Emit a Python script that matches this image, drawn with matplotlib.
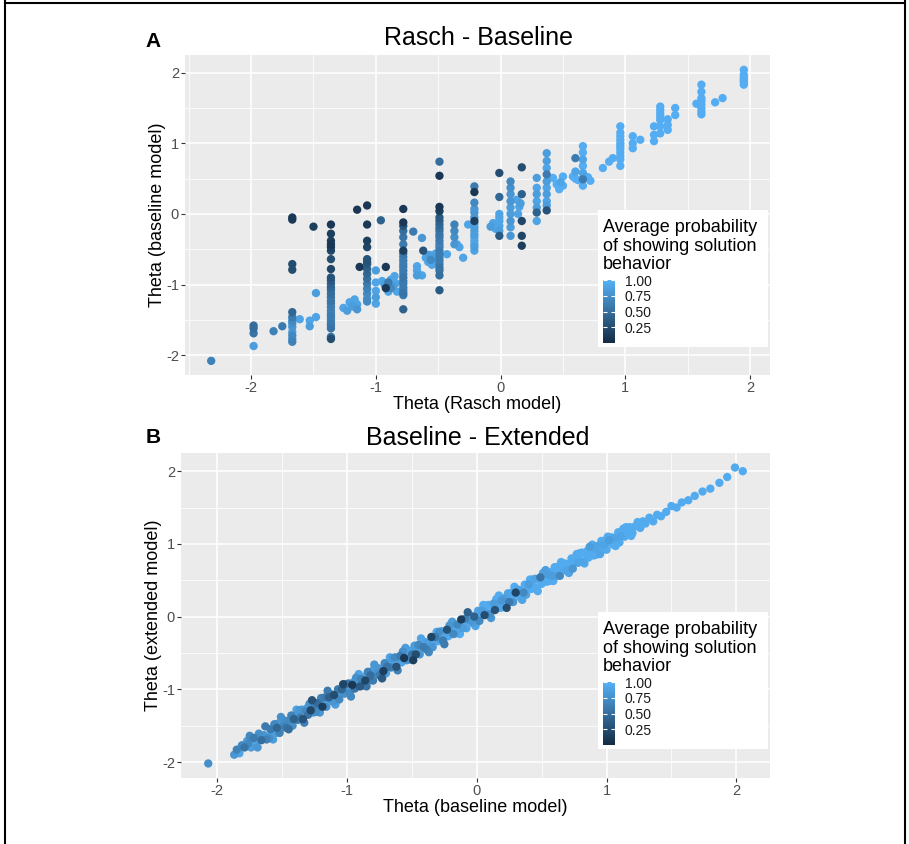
import matplotlib
matplotlib.use("Agg")
import numpy as np
import matplotlib.pyplot as plt
from matplotlib.colors import LinearSegmentedColormap, Normalize
from matplotlib.cm import ScalarMappable
from matplotlib.patches import Rectangle
from matplotlib.lines import Line2D
from matplotlib.ticker import MultipleLocator

plt.rcParams['font.family'] = ['Liberation Sans', 'DejaVu Sans']
plt.rcParams['axes.unicode_minus'] = False

# ---- panel A: Rasch theta (discrete) vs baseline theta ----
a_rasch = ([-2.32] + [-1.98] * 4 + [-1.82, -1.75] + [-1.67] * 13
           + [-1.61, -1.53, -1.53, -1.48, -1.48, -1.50] + [-1.36] * 28
           + [-1.26, -1.23, -1.21, -1.17, -1.19, -1.15, -1.15, -1.15, -1.13]
           + [-1.07] * 15 + [-1.00] * 5 + [-0.96, -0.92, -0.92]
           + [-0.95, -0.93, -0.90, -0.88, -0.86, -0.84, -0.83, -0.85, -0.90, -0.88]
           + [-0.78] * 22 + [-0.70, -0.67, -0.67, -0.67, -0.63, -0.63, -0.62]
           + [-0.60, -0.58, -0.57, -0.55, -0.54, -0.52, -0.56, -0.53]
           + [-0.49] * 23 + [-0.43, -0.37, -0.37, -0.37, -0.37, -0.30, -0.35, -0.33, -0.26]
           + [-0.21] * 16 + [-0.01] * 8 + [-0.06, -0.04, -0.08]
           + [0.08] * 9 + [0.17] * 5 + [0.13, 0.15, 0.14, 0.16]
           + [0.29] * 7 + [0.37] * 10 + [0.42, 0.45, 0.47, 0.50, 0.50, 0.48]
           + [0.60] * 3 + [0.66] * 7 + [0.58, 0.62, 0.70, 0.72, 0.82, 0.87, 0.90]
           + [0.96] * 11 + [1.06, 1.06, 1.06, 1.12, 1.23, 1.23, 1.23]
           + [1.28] * 7 + [1.34] * 3 + [1.40] * 2 + [1.61] * 8 + [1.57, 1.72, 1.78]
           + [1.95] * 6)
a_base = [-2.08,
          -1.58, -1.62, -1.69, -1.87,
          -1.66, -1.59,
          -0.05, -0.08, -0.71, -0.79, -1.39, -1.46, -1.51, -1.55, -1.60, -1.67, -1.72, -1.77, -1.81,
          -1.49, -1.51, -1.59, -1.12, -1.46, -0.18,
          -0.15, -0.28, -0.38, -0.43, -0.47, -0.52, -0.64, -0.78, -0.90, -0.94, -0.99, -1.04, -1.08, -1.13,
          -1.18, -1.23, -1.27, -1.32, -1.37, -1.41, -1.44, -1.48, -1.51, -1.55, -1.58, -1.62, -1.74, -1.77,
          -1.33, -1.37, -1.25, -1.21, -1.31, -1.28, -1.35, 0.06, -0.75,
          0.12, -0.15, -0.38, -0.47, -0.64, -0.68, -0.71, -0.78, -0.85, -0.92, -0.99, -1.06, -1.13, -1.20, -1.24,
          -0.80, -0.97, -1.09, -1.18, -1.27, -0.09, -0.75, -1.05,
          -0.95, -1.00, -1.10, -0.93, -1.02, -0.98, -1.10, -0.88, -0.97, -1.05,
          0.07, -0.12, -0.17, -0.24, -0.33, -0.43, -0.52, -0.56, -0.61, -0.66, -0.71, -0.75, -0.80, -0.85,
          -0.90, -0.95, -0.99, -1.04, -1.08, -1.12, -1.15, -1.35,
          -0.25, -0.74, -0.80, -0.87, -0.34, -0.87, -0.52,
          -0.62, -0.68, -0.58, -0.72, -0.62, -0.56, -0.65, -0.70,
          0.74, 0.54, 0.10, 0.04, -0.05, -0.10, -0.15, -0.20, -0.24, -0.29, -0.33, -0.38, -0.43, -0.47,
          -0.52, -0.57, -0.62, -0.66, -0.71, -0.76, -0.80, -0.87, -1.08,
          -0.57, -0.15, -0.24, -0.33, -0.43, -0.62, -0.43, -0.47, -0.15,
          0.39, 0.31, 0.16, 0.07, 0.02, -0.05, -0.10, -0.14, -0.19, -0.24, -0.29, -0.33, -0.38, -0.43, -0.47, -0.52,
          0.58, 0.24, 0.00, -0.10, -0.24, -0.31, -0.05, -0.17, -0.13, -0.21, -0.18,
          0.46, 0.37, 0.28, 0.18, 0.09, 0.00, -0.10, -0.19, -0.31,
          0.66, 0.28, -0.10, -0.31, -0.45, 0.20, 0.10, 0.00, 0.15,
          0.51, 0.37, 0.28, 0.18, 0.09, 0.02, -0.10,
          0.86, 0.75, 0.65, 0.56, 0.46, 0.37, 0.28, 0.18, 0.12, 0.05,
          0.51, 0.42, 0.35, 0.53, 0.40, 0.45,
          0.79, 0.60, 0.50, 0.96, 0.87, 0.77, 0.68, 0.58, 0.49, 0.40,
          0.53, 0.48, 0.52, 0.47, 0.65, 0.74, 0.79,
          1.24, 1.15, 1.10, 1.05, 1.00, 0.96, 0.92, 0.87, 0.82, 0.77, 0.68,
          1.10, 1.00, 0.93, 1.05, 1.24, 1.12, 1.03,
          1.52, 1.47, 1.42, 1.38, 1.33, 1.24, 1.14, 1.34, 1.26, 1.19, 1.50, 1.40,
          1.83, 1.73, 1.64, 1.60, 1.55, 1.50, 1.45, 1.41, 1.56, 1.58, 1.64,
          2.04, 1.97, 1.93, 1.90, 1.87, 1.83]
a_prob = [0.65,
          0.5, 0.5, 0.55, 0.85,
          0.65, 0.6,
          0.1, 0.1, 0.25, 0.25, 0.45, 0.6, 0.7, 0.75, 0.8, 0.85, 0.7, 0.75, 0.65,
          0.9, 0.9, 0.85, 0.85, 0.9, 0.15,
          0.1, 0.15, 0.15, 0.1, 0.15, 0.2, 0.25, 0.2, 0.3, 0.35, 0.4, 0.45, 0.5, 0.5,
          0.55, 0.55, 0.6, 0.6, 0.65, 0.7, 0.6, 0.65, 0.65, 0.6, 0.6, 0.55, 0.5, 0.25,
          0.9, 0.85, 0.9, 0.9, 0.85, 0.9, 0.8, 0.1, 0.1,
          0.1, 0.1, 0.15, 0.2, 0.3, 0.3, 0.35, 0.4, 0.45, 0.5, 0.6, 0.65, 0.7, 0.75, 0.7,
          0.85, 0.9, 0.9, 0.85, 0.9, 0.4, 0.1, 0.1,
          0.9, 0.85, 0.9, 0.9, 0.85, 0.9, 0.9, 0.9, 0.6, 0.7,
          0.1, 0.1, 0.3, 0.5, 0.55, 0.6, 0.15, 0.55, 0.6, 0.6, 0.65, 0.6, 0.6, 0.65,
          0.55, 0.6, 0.6, 0.6, 0.65, 0.55, 0.6, 0.4,
          0.6, 0.9, 0.9, 0.85, 0.8, 0.9, 0.3,
          0.9, 0.9, 0.85, 0.9, 0.85, 0.9, 0.7, 0.9,
          0.5, 0.1, 0.1, 0.15, 0.35, 0.4, 0.45, 0.5, 0.55, 0.55, 0.6, 0.6, 0.65, 0.65,
          0.6, 0.6, 0.65, 0.6, 0.6, 0.55, 0.55, 0.5, 0.35,
          0.9, 0.65, 0.7, 0.75, 0.8, 0.9, 0.9, 0.9, 0.9,
          0.6, 0.1, 0.7, 0.8, 0.8, 0.8, 0.15, 0.85, 0.85, 0.85, 0.85, 0.9, 0.9, 0.9, 0.85, 0.9,
          0.25, 0.45, 0.9, 0.9, 0.85, 0.35, 0.9, 0.9, 0.9, 0.9, 0.85,
          0.7, 0.75, 0.8, 0.8, 0.85, 0.85, 0.8, 0.85, 0.8,
          0.25, 0.4, 0.2, 0.2, 0.15, 0.9, 0.9, 0.9, 0.85,
          0.85, 0.9, 0.85, 0.9, 0.85, 0.4, 0.9,
          0.85, 0.85, 0.9, 0.6, 0.85, 0.9, 0.85, 0.9, 0.85, 0.3,
          0.97, 0.97, 0.97, 0.97, 0.97, 0.9,
          0.6, 0.9, 0.97, 0.97, 0.97, 0.9, 0.97, 0.9, 0.6, 0.97,
          0.97, 0.97, 0.97, 0.97, 0.97, 0.97, 0.97,
          0.97, 0.97, 0.97, 0.97, 0.97, 0.97, 0.97, 0.97, 0.97, 0.97, 0.97,
          0.97, 0.97, 0.97, 0.97, 0.97, 0.97, 0.97,
          0.97, 0.97, 0.97, 0.97, 0.97, 0.97, 0.97, 0.97, 0.97, 0.97, 0.97, 0.97,
          0.97, 0.97, 0.97, 0.97, 0.97, 0.97, 0.97, 0.97, 0.97, 0.97, 0.97,
          0.97, 0.97, 0.97, 0.97, 0.97, 0.97]

# ---- panel B: baseline theta vs extended theta ----
b_base = [-2.07,
          -1.87, -1.85, -1.83, -1.81, -1.79, -1.77,
          -1.76, -1.74, -1.72, -1.70, -1.68, -1.66, -1.64, -1.62,
          -1.60, -1.59, -1.58, -1.56, -1.55, -1.54, -1.53, -1.52, -1.50, -1.49,
          -1.48, -1.47, -1.46, -1.44, -1.43, -1.42, -1.41, -1.40, -1.38, -1.37,
          -1.36, -1.35, -1.34, -1.32, -1.31, -1.30, -1.29, -1.28, -1.26, -1.25,
          -1.24, -1.23, -1.22, -1.20, -1.19, -1.18, -1.17, -1.16, -1.14, -1.13,
          -1.12, -1.11, -1.10, -1.08, -1.07, -1.06, -1.05, -1.04, -1.02, -1.01,
          -1.00, -0.99, -0.98, -0.96, -0.95, -0.94, -0.93, -0.92, -0.90, -0.89,
          -0.88, -0.87, -0.86, -0.84, -0.83, -0.82, -0.81, -0.80, -0.78, -0.77,
          -0.76, -0.75, -0.74, -0.72, -0.71, -0.70, -0.69, -0.68, -0.66, -0.65,
          -0.64, -0.63, -0.62, -0.60, -0.59, -0.58, -0.57, -0.56, -0.54, -0.53,
          -0.52, -0.51, -0.50, -0.48, -0.47, -0.46, -0.45, -0.44, -0.42, -0.41,
          -0.40, -0.39, -0.38, -0.36, -0.35, -0.34, -0.33, -0.32, -0.30, -0.29,
          -0.28, -0.27, -0.26, -0.24, -0.23, -0.22, -0.21, -0.20, -0.18, -0.17,
          -0.16, -0.15, -0.14, -0.12, -0.11, -0.10, -0.09, -0.08, -0.06, -0.05,
          -0.04, -0.03, -0.02, 0.00, 0.01, 0.02, 0.03, 0.04, 0.06, 0.07,
          0.08, 0.09, 0.10, 0.12, 0.13, 0.14, 0.15, 0.16, 0.18, 0.19,
          0.20, 0.21, 0.22, 0.24, 0.25, 0.26, 0.27, 0.28, 0.30, 0.31,
          0.32, 0.33, 0.34, 0.36, 0.37, 0.38, 0.39, 0.40, 0.42, 0.43,
          0.44, 0.45, 0.46, 0.48, 0.49, 0.50, 0.51, 0.52, 0.54, 0.55,
          0.56, 0.57, 0.58, 0.60, 0.61, 0.62, 0.63, 0.64, 0.66, 0.67,
          0.68, 0.69, 0.70, 0.72, 0.73, 0.74, 0.75, 0.76, 0.78, 0.79,
          0.80, 0.81, 0.82, 0.84, 0.85, 0.86, 0.87, 0.88, 0.90, 0.91,
          0.92, 0.93, 0.94, 0.96, 0.97, 0.98, 0.99, 1.00, 1.02, 1.03,
          1.04, 1.05, 1.06, 1.08, 1.09, 1.10, 1.11, 1.12, 1.14, 1.15,
          1.16, 1.18, 1.20, 1.22, 1.24, 1.26, 1.28, 1.30,
          1.33, 1.36, 1.39, 1.42, 1.46, 1.50, 1.54, 1.58, 1.63, 1.68, 1.74, 1.80, 1.87, 1.93, 1.99, 2.05,
          # outer edge of the band
          -1.75, -1.69, -1.63, -1.57, -1.51, -1.45, -1.39, -1.33, -1.27, -1.21,
          -1.15, -1.09, -1.03, -0.97, -0.91, -0.85, -0.79, -0.73, -0.67, -0.61,
          -0.55, -0.49, -0.43, -0.37, -0.31, -0.25, -0.19, -0.13, -0.07, -0.01,
          0.05, 0.11, 0.17, 0.23, 0.29, 0.35, 0.41, 0.47, 0.53, 0.59,
          0.65, 0.71, 0.77, 0.83, 0.89, 0.95, 1.01, 1.07, 1.13, 1.19]
b_ext = [-2.02,
         -1.90, -1.83, -1.88, -1.77, -1.80, -1.71,
         -1.74, -1.80, -1.67, -1.72, -1.61, -1.70, -1.63, -1.69,
         -1.67, -1.55, -1.60, -1.48, -1.60, -1.53, -1.47, -1.60, -1.47, -1.50,
         -1.43, -1.53, -1.44, -1.47, -1.36, -1.50, -1.41, -1.36, -1.42, -1.29,
         -1.39, -1.28, -1.41, -1.30, -1.26, -1.35, -1.20, -1.29, -1.32, -1.22,
         -1.31, -1.19, -1.24, -1.12, -1.24, -1.17, -1.11, -1.24, -1.11, -1.14,
         -1.07, -1.17, -1.08, -1.11, -1.00, -1.14, -1.05, -1.00, -1.06, -0.93,
         -1.03, -0.92, -1.05, -0.94, -0.90, -0.99, -0.84, -0.93, -0.96, -0.86,
         -0.95, -0.83, -0.88, -0.76, -0.88, -0.81, -0.75, -0.88, -0.75, -0.78,
         -0.71, -0.81, -0.72, -0.75, -0.64, -0.78, -0.69, -0.64, -0.70, -0.57,
         -0.67, -0.56, -0.69, -0.58, -0.54, -0.63, -0.48, -0.57, -0.60, -0.50,
         -0.59, -0.47, -0.52, -0.40, -0.52, -0.45, -0.39, -0.52, -0.39, -0.42,
         -0.35, -0.45, -0.36, -0.39, -0.28, -0.42, -0.33, -0.28, -0.34, -0.21,
         -0.31, -0.20, -0.33, -0.22, -0.18, -0.27, -0.12, -0.21, -0.24, -0.14,
         -0.23, -0.11, -0.16, -0.04, -0.16, -0.09, -0.03, -0.16, -0.03, -0.06,
         0.01, -0.09, 0.00, -0.03, 0.08, -0.06, 0.03, 0.08, 0.02, 0.15,
         0.05, 0.16, 0.03, 0.14, 0.18, 0.09, 0.24, 0.15, 0.12, 0.22,
         0.13, 0.25, 0.20, 0.32, 0.20, 0.27, 0.33, 0.20, 0.33, 0.30,
         0.37, 0.27, 0.36, 0.33, 0.44, 0.30, 0.39, 0.44, 0.38, 0.51,
         0.41, 0.52, 0.39, 0.50, 0.54, 0.45, 0.60, 0.51, 0.48, 0.58,
         0.49, 0.61, 0.56, 0.68, 0.56, 0.63, 0.69, 0.56, 0.69, 0.66,
         0.73, 0.63, 0.72, 0.69, 0.80, 0.66, 0.75, 0.80, 0.74, 0.87,
         0.77, 0.88, 0.75, 0.86, 0.90, 0.81, 0.96, 0.87, 0.84, 0.94,
         0.85, 0.97, 0.92, 1.04, 0.92, 0.99, 1.05, 0.92, 1.05, 1.02,
         1.09, 0.99, 1.08, 1.05, 1.16, 1.02, 1.11, 1.16, 1.10, 1.23,
         1.13, 1.23, 1.15, 1.24, 1.30, 1.22, 1.31, 1.28,
         1.36, 1.31, 1.40, 1.38, 1.44, 1.52, 1.50, 1.57, 1.60, 1.66, 1.72, 1.76, 1.84, 1.92, 2.05, 2.00,
         # outer edge of the band
         -1.64, -1.80, -1.51, -1.69, -1.38, -1.55, -1.28, -1.46, -1.15, -1.32,
         -1.02, -1.21, -0.93, -1.10, -0.79, -0.96, -0.66, -0.85, -0.56, -0.74,
         -0.43, -0.60, -0.30, -0.49, -0.21, -0.38, -0.07, -0.24, 0.06, -0.13,
         0.16, -0.02, 0.29, 0.12, 0.41, 0.23, 0.51, 0.35, 0.64, 0.49,
         0.75, 0.60, 0.86, 0.73, 0.99, 0.86, 1.10, 0.97, 1.21, 1.11]
b_prob = [0.75,
          0.8, 0.65, 0.9, 0.7, 0.55, 0.85,
          0.7, 0.85, 0.6, 0.9, 0.75, 0.5, 0.8, 0.65,
          0.75, 0.6, 0.9, 0.7, 0.85, 0.45, 0.8, 0.65, 0.9, 0.7,
          0.8, 0.55, 0.7, 0.9, 0.65, 0.75, 0.4, 0.85, 0.6, 0.8,
          0.6, 0.85, 0.3, 0.7, 0.9, 0.55, 0.75, 0.2, 0.8, 0.65,
          0.7, 0.5, 0.85, 0.65, 0.15, 0.9, 0.6, 0.75, 0.4, 0.8,
          0.65, 0.8, 0.25, 0.9, 0.6, 0.7, 0.85, 0.45, 0.75, 0.55,
          0.85, 0.6, 0.7, 0.1, 0.9, 0.55, 0.75, 0.8, 0.35, 0.65,
          0.7, 0.9, 0.2, 0.65, 0.8, 0.5, 0.85, 0.6, 0.9, 0.75,
          0.8, 0.6, 0.9, 0.15, 0.7, 0.85, 0.55, 0.9, 0.65, 0.8,
          0.9, 0.7, 0.3, 0.85, 0.6, 0.9, 0.75, 0.1, 0.8, 0.9,
          0.75, 0.9, 0.55, 0.85, 0.25, 0.9, 0.7, 0.8, 0.95, 0.6,
          0.9, 0.65, 0.85, 0.95, 0.2, 0.8, 0.9, 0.6, 0.95, 0.75,
          0.85, 0.95, 0.6, 0.9, 0.3, 0.95, 0.8, 0.9, 0.7, 0.95,
          0.9, 0.7, 0.95, 0.15, 0.85, 0.95, 0.65, 0.9, 0.95, 0.8,
          0.95, 0.85, 0.4, 0.95, 0.9, 0.7, 0.95, 0.85, 0.25, 0.95,
          0.9, 0.95, 0.75, 0.95, 0.85, 0.3, 0.95, 0.9, 0.95, 0.8,
          0.95, 0.85, 0.95, 0.9, 0.6, 0.95, 0.95, 0.8, 0.2, 0.95,
          0.9, 0.95, 0.95, 0.7, 0.95, 0.9, 0.95, 0.85, 0.95, 0.95,
          0.95, 0.9, 0.95, 0.95, 0.55, 0.95, 0.9, 0.95, 0.95, 0.85,
          0.95, 0.95, 0.85, 0.95, 0.9, 0.95, 0.95, 0.7, 0.95, 0.95,
          0.95, 0.9, 0.95, 0.95, 0.95, 0.8, 0.95, 0.95, 0.9, 0.95,
          0.95, 0.95, 0.9, 0.95, 0.95, 0.95, 0.85, 0.95, 0.95, 0.9,
          0.95, 0.9, 0.95, 0.95, 0.95, 0.9, 0.95, 0.95, 0.85, 0.95,
          0.95, 0.95, 0.9, 0.95, 0.95, 0.95, 0.9, 0.95, 0.95, 0.95,
          0.95, 0.95, 0.95, 0.95, 0.95, 0.95, 0.95, 0.95,
          0.95, 0.95, 0.95, 0.95, 0.95, 0.95, 0.95, 0.95, 0.95, 0.95, 0.95, 0.95, 0.95, 0.95, 0.95, 0.95,
          # outer edge of the band
          0.7, 0.8, 0.6, 0.85, 0.75, 0.5, 0.9, 0.65, 0.3, 0.8,
          0.6, 0.85, 0.2, 0.7, 0.9, 0.55, 0.8, 0.35, 0.9, 0.65,
          0.85, 0.15, 0.9, 0.7, 0.95, 0.6, 0.85, 0.95, 0.4, 0.9,
          0.95, 0.8, 0.95, 0.25, 0.95, 0.9, 0.95, 0.95, 0.85, 0.95,
          0.95, 0.9, 0.95, 0.95, 0.95, 0.9, 0.95, 0.95, 0.95, 0.95]

legend_title = ["Average probability", "of showing solution", "behavior"]
legend_ticks = [0.25, 0.50, 0.75, 1.00]

W, H = 909, 844


def fx(px):
    return px / W


def fy(py):
    return 1 - py / H


def rect(l, t, r, b):
    return [fx(l), fy(b), (r - l) / W, (b - t) / H]


cmap = LinearSegmentedColormap.from_list('gg', ['#132B43', '#56B1F7'])
norm = Normalize(vmin=0.0, vmax=1.0)

fig = plt.figure(figsize=(9.09, 8.44), dpi=100)


def panel(box, x, y, c, xlim, ylim, xlabel, ylabel):
    ax = fig.add_axes(box)
    ax.set_facecolor('#EBEBEB')
    for s in ax.spines.values():
        s.set_visible(False)
    ax.xaxis.set_major_locator(MultipleLocator(1))
    ax.yaxis.set_major_locator(MultipleLocator(1))
    ax.xaxis.set_minor_locator(MultipleLocator(0.5))
    ax.yaxis.set_minor_locator(MultipleLocator(0.5))
    ax.grid(which='major', color='white', lw=1.1)
    ax.grid(which='minor', color='white', lw=0.55)
    ax.set_axisbelow(True)
    ax.tick_params(which='major', length=2.75, width=0.8, color='#333333',
                   labelcolor='#4D4D4D', labelsize=10.5, pad=1.6)
    ax.tick_params(which='minor', length=0)
    order = np.argsort(-np.asarray(c), kind='stable')
    ax.scatter(np.asarray(x)[order], np.asarray(y)[order], c=np.asarray(c)[order],
               cmap=cmap, norm=norm, s=36, linewidths=0, zorder=3)
    ax.set_xlim(*xlim)
    ax.set_ylim(*ylim)
    ax.set_xlabel(xlabel, fontsize=13, labelpad=1)
    ax.set_ylabel(ylabel, fontsize=13, labelpad=0)
    return ax


def legend(top):
    fig.add_artist(Rectangle((fx(598), fy(top + 137)), 170 / W, 137 / H,
                             transform=fig.transFigure, facecolor='white',
                             edgecolor='none', zorder=5))
    for i, line in enumerate(legend_title):
        fig.text(fx(603), fy(top + 22 + 18.7 * i), line, fontsize=13,
                 va='baseline', ha='left', zorder=6)
    cax = fig.add_axes(rect(603, top + 70, 615, top + 133))
    cax.set_zorder(10)
    cb = fig.colorbar(ScalarMappable(norm=norm, cmap=cmap), cax=cax)
    cb.outline.set_visible(False)
    cb.set_ticks(legend_ticks)
    cb.set_ticklabels(['%.2f' % t for t in legend_ticks])
    cax.tick_params(axis='y', direction='in', length=3, width=0.8, color='white',
                    left=True, right=True, labelsize=10, labelcolor='#1A1A1A', pad=7)


ax_a = panel(rect(185, 55, 770, 375), a_rasch, a_base, a_prob,
             (-2.53, 2.16), (-2.28, 2.25),
             'Theta (Rasch model)', 'Theta (baseline model)')
ax_b = panel(rect(181, 453, 770, 778), b_base, b_ext, b_prob,
             (-2.28, 2.26), (-2.22, 2.25),
             'Theta (baseline model)', 'Theta (extended model)')

legend(210)
legend(612)

fig.text(fx(478), fy(45), 'Rasch - Baseline', fontsize=18, ha='center', va='baseline')
fig.text(fx(478), fy(445), 'Baseline - Extended', fontsize=18, ha='center', va='baseline')
fig.text(fx(145), fy(47), 'A', fontsize=15, fontweight='bold', ha='left', va='baseline')
fig.text(fx(146), fy(443), 'B', fontsize=15, fontweight='bold', ha='left', va='baseline')

# frame around the figure (left, top, right)
for xs, ys in [([5, 5], [0, 844]), ([5, 905], [3, 3]), ([905, 905], [0, 844])]:
    fig.add_artist(Line2D([fx(v) for v in xs], [fy(v) for v in ys],
                          transform=fig.transFigure, color='black', lw=1.5))

fig.savefig('out.png', dpi=100)
